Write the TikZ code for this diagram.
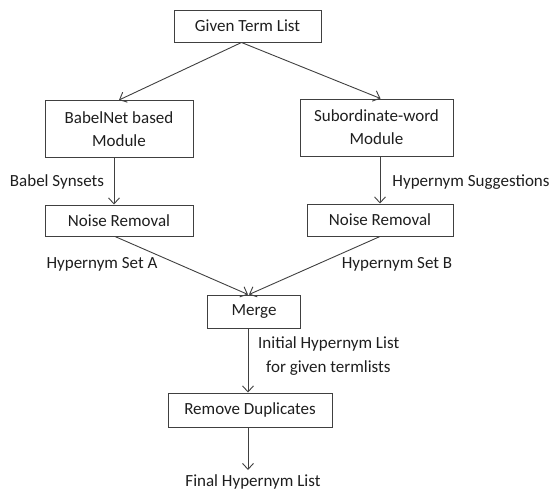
\documentclass[tikz,border=0pt]{standalone}
\usepackage{fontspec}
\setmainfont{Carlito}
\usetikzlibrary{arrows.meta}
\definecolor{linec}{HTML}{404040}
\definecolor{textc}{HTML}{1E1E1E}
\begin{document}
\begin{tikzpicture}[x=1pt,y=-1pt,
  box/.style={draw=linec, line width=1pt, minimum width=#1, inner sep=0pt, align=center, text=textc},
  lbl/.style={inner sep=0pt, text=textc},
  conn/.style={draw=linec, line width=0.9pt, -{Straight Barb[length=6pt,width=11pt,line width=0.9pt]}},
  font=\fontsize{17}{23}\selectfont]
\useasboundingbox (0,0) rectangle (551,490);
\node[box=147pt, minimum height=32pt] (given) at (247.5,26) {Given Term List};
\node[box=148pt, minimum height=57pt] (babel) at (119,129) {BabelNet based\\Module};
\node[box=153pt, minimum height=57pt] (sub) at (376.5,127.5) {Subordinate-word\\Module};
\node[box=148pt, minimum height=31pt] (noiseL) at (119,220.5) {Noise Removal};
\node[box=146pt, minimum height=32pt] (noiseR) at (380,220) {Noise Removal};
\node[box=93pt, minimum height=33pt] (merge) at (254,311.5) {Merge};
\node[box=164pt, minimum height=34pt] (rd) at (250,410) {Remove Duplicates};
\node[lbl] (final) at (253,482) {Final Hypernym List};
\coordinate (fintip) at (248,470);

\node[lbl] (lbs) at (57,182) {Babel Synsets};
\node[lbl] (lhs) at (471,182) {Hypernym Suggestions};
\node[lbl] (lha) at (102,264) {Hypernym Set A};
\node[lbl] (lhb) at (397,264) {Hypernym Set B};
\node[lbl, anchor=west] (li1) at (258,344) {Initial Hypernym List};
\node[lbl, anchor=west] (li2) at (266,368) {for given termlists};

\draw[conn] ([xshift=-6pt]given.south) -- (babel.north);
\draw[conn] ([xshift=-6pt]given.south) -- ([xshift=4pt]sub.north);
\draw[conn] ([xshift=-5pt]babel.south) -- ([xshift=-5pt]noiseL.north);
\draw[conn] ([xshift=3.5pt]sub.south) -- (noiseR.north);
\draw[conn] ([xshift=-4pt]noiseL.south) -- ([xshift=-6pt]merge.north);
\draw[conn] (noiseR.south) -- ([xshift=-5pt]merge.north);
\draw[conn] ([xshift=-6pt]merge.south) -- ([xshift=-2pt]rd.north);
\draw[conn] ([xshift=-2pt]rd.south) -- (fintip);
\end{tikzpicture}
\end{document}
